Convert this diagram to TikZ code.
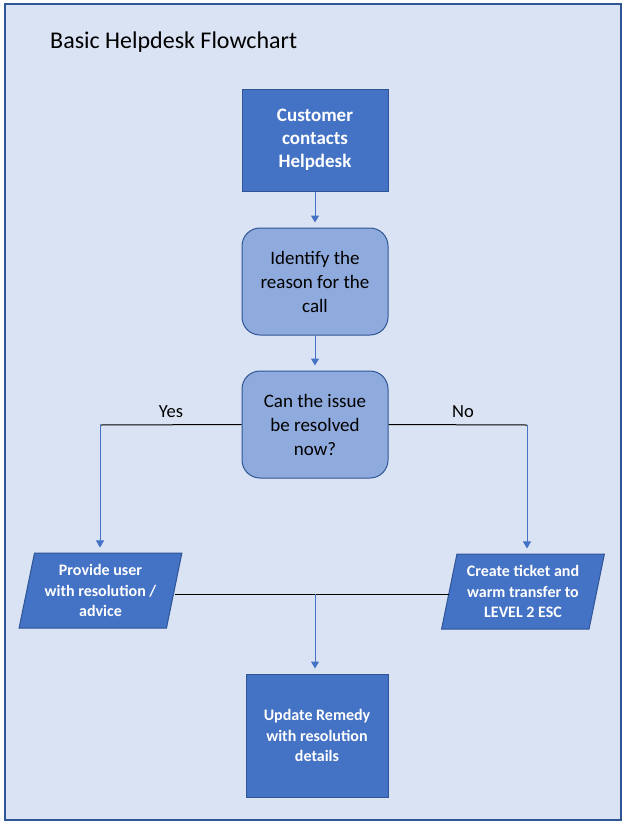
\documentclass[tikz,border=0pt]{standalone}
\usepackage{fontspec}
\setmainfont{Carlito}
\usetikzlibrary{shapes.geometric,arrows.meta}
\definecolor{bgblue}{HTML}{DAE3F3}
\definecolor{dkblue}{HTML}{2F5597}
\definecolor{midblue}{HTML}{4472C4}
\definecolor{ltblue}{HTML}{8FAADC}
\begin{document}
\begin{tikzpicture}[x=1pt,y=-1pt,
  darkbox/.style={rectangle, draw=dkblue, fill=midblue, line width=1pt, text=white, align=center, inner sep=0pt},
  bigbold/.style={font=\fontsize{19}{23}\selectfont\bfseries},
  smallbold/.style={font=\fontsize{16}{20.5}\selectfont\bfseries},
  roundbox/.style={rectangle, rounded corners=18pt, draw=dkblue, fill=ltblue, line width=1pt, text=black, align=center, inner sep=0pt, minimum width=146pt, minimum height=107pt, font=\fontsize{19}{24}\selectfont},
  parabox/.style={trapezium, trapezium left angle=76, trapezium right angle=104, trapezium stretches=true, draw=dkblue, fill=midblue, line width=1pt, text=white, align=center, inner sep=0pt, minimum width=163pt, minimum height=75pt, font=\fontsize{16}{20.5}\selectfont\bfseries},
  lbl/.style={font=\fontsize{18.5}{22}\selectfont, text=black},
  conn/.style={draw=midblue, line width=1pt, -{Triangle[width=8pt,length=7pt]}, shorten >=5pt},
  plain/.style={draw=black, line width=1pt}
]
\useasboundingbox (0,0) rectangle (626,825);
\fill[white] (0,0) rectangle (626,825);
\draw[dkblue, fill=bgblue, line width=1.2pt] (5,4) rectangle (621,820);
\node[anchor=west, inner sep=0pt, font=\fontsize{24}{29}\selectfont] (title) at (50,42) {Basic Helpdesk Flowchart};

\node[darkbox, bigbold, minimum width=146pt, minimum height=102pt] (cust) at (315,140) {Customer\\contacts\\Helpdesk};
\node[roundbox] (ident) at (315,281.5) {Identify the\\reason for the\\call};
\node[roundbox] (dec) at (315,424.5) {Can the issue\\be resolved\\now?};
\node[parabox] (prov) at (100.5,590.5) {Provide user\\with resolution /\\advice};
\node[parabox] (esc) at (523,591.5) {Create ticket and\\warm transfer to\\LEVEL 2 ESC};
\node[darkbox, smallbold, minimum width=142pt, minimum height=123pt] (upd) at (317,735.5) {Update Remedy\\with resolution\\details};

\node[lbl] (yes) at (171,412) {Yes};
\node[lbl] (no) at (463,412) {No};

\coordinate (yc) at (100,425);
\coordinate (nc) at (527,425);
\coordinate (jn) at (315,594);

\draw[conn] (cust) -- (ident);
\draw[conn] (ident) -- (dec);
\draw[plain] (dec.west) -- (yc);
\draw[conn] (yc) -- (yc |- prov.north);
\draw[plain] (dec.east) -- (nc);
\draw[conn] (nc) -- (nc |- esc.north);
\draw[plain] (prov.east |- jn) -- (esc.west |- jn);
\draw[conn] (jn) -- (jn |- upd.north);
\end{tikzpicture}
\end{document}
